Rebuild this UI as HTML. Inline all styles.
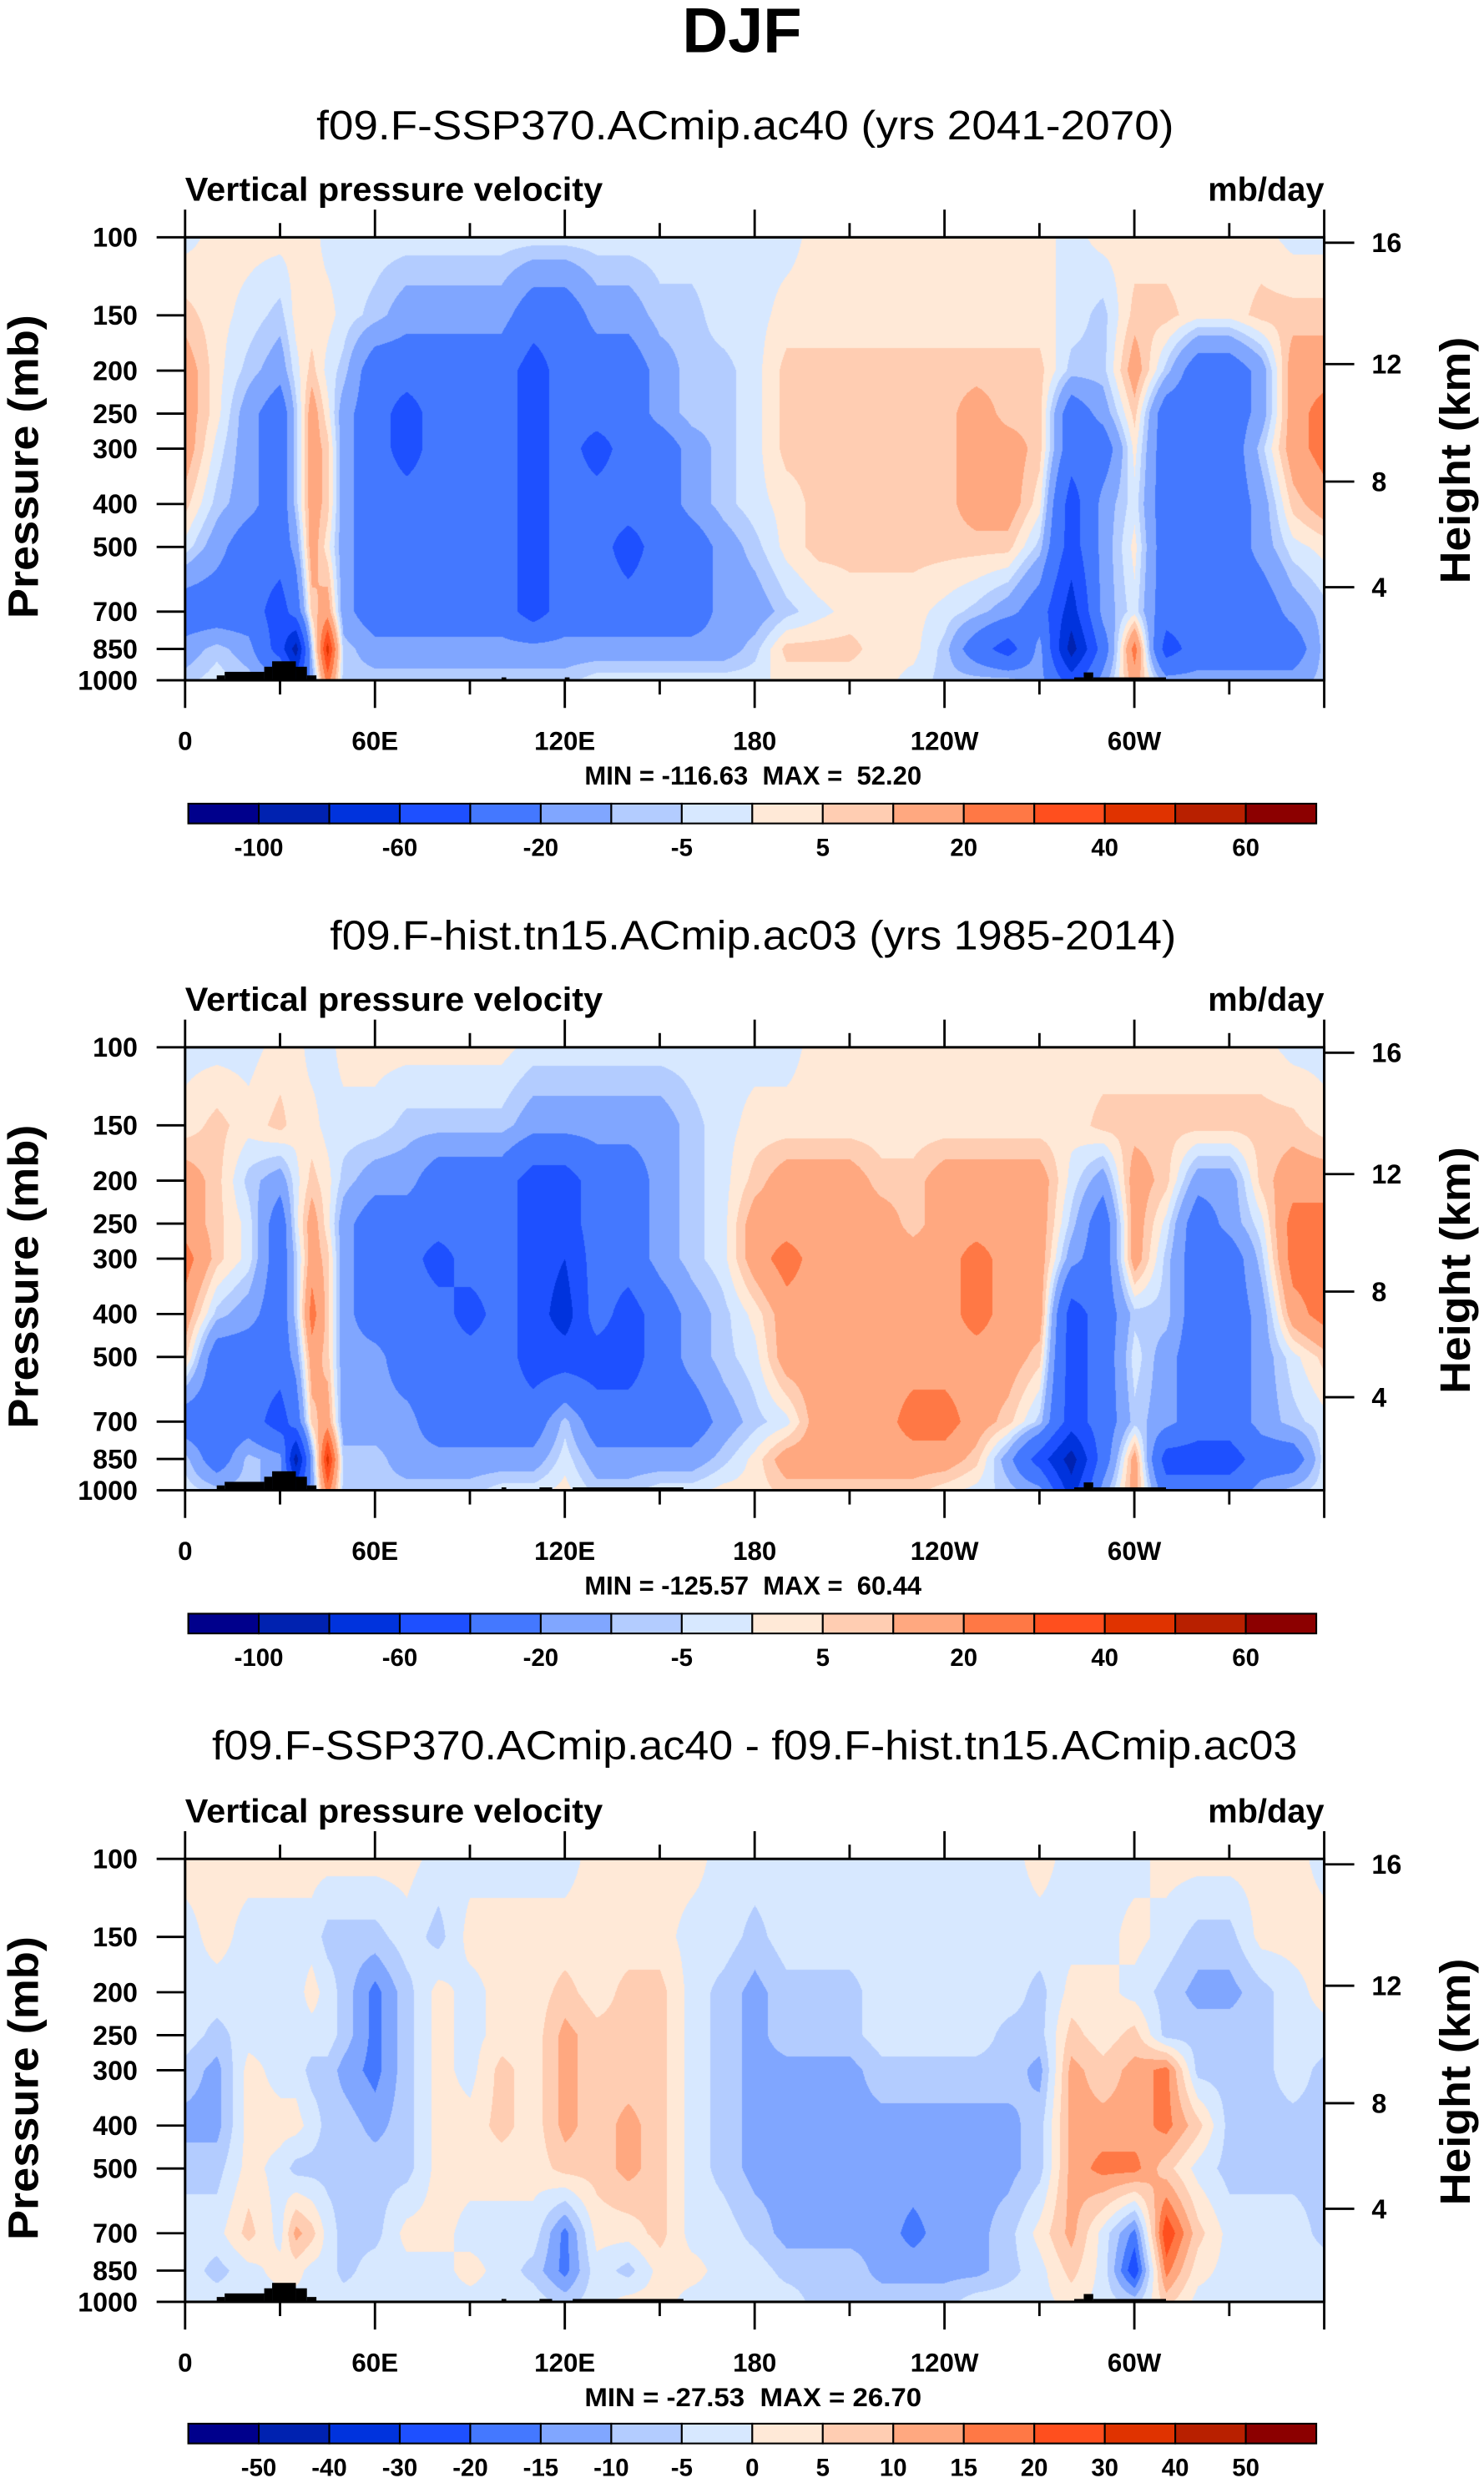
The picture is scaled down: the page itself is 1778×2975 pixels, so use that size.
<!DOCTYPE html>
<html><head><meta charset="utf-8"><title>DJF Vertical pressure velocity</title>
<style>
html,body{margin:0;padding:0;background:#fff;}
#root{position:relative;width:1778px;height:2975px;overflow:hidden;background:#fff;}
canvas{position:absolute;}
svg{position:absolute;left:0;top:0;}
text{font-family:"Liberation Sans",Arial,sans-serif;fill:#000;white-space:pre;}
.b{font-weight:bold;}
</style></head>
<body>
<div id="root">
<canvas id="c0"></canvas>
<canvas id="c1"></canvas>
<canvas id="c2"></canvas>
<svg id="svg" width="1778" height="2975" viewBox="0 0 938 1569.5">
<text x="469" y="33" text-anchor="middle" class="b" font-size="40">DJF</text>
<text x="471" y="88" text-anchor="middle" font-size="26" textLength="542" lengthAdjust="spacingAndGlyphs">f09.F-SSP370.ACmip.ac40 (yrs 2041-2070)</text>
<text x="476" y="600" text-anchor="middle" font-size="26" textLength="535" lengthAdjust="spacingAndGlyphs">f09.F-hist.tn15.ACmip.ac03 (yrs 1985-2014)</text>
<text x="477" y="1112" text-anchor="middle" font-size="26" textLength="686" lengthAdjust="spacingAndGlyphs">f09.F-SSP370.ACmip.ac40 - f09.F-hist.tn15.ACmip.ac03</text>
<g id="axes"></g>
</svg>
</div>
<script>
// ---------- data ----------
const lonGrid = [0,10,20,30,35,40,45,50,60,70,80,90,100,110,120,130,140,150,160,170,180,190,200,210,220,230,240,250,260,270,280,290,300,310,320,330,340,350,360];
const pressureLevels = [100,150,200,250,300,400,500,700,850,1000];
const panel1Values = [
[-2,2,2, 2,2,2,-2,-2, -2,-2,-2,-2,-2,-2,-2,-2,-2,-2,-2,-2,-2,-2, 2,2,2,2,2,2,2, 2,-2,2,2,2,2, 2, 2,-2,-2],
[7,2,-2, -7,2,2,2,-2, -7,-15,-15,-15,-15,-30,-30,-15,-15,-7,-7,-2,-2,2, 2,2,2,2,2,2,2, 2,-2,-7,7,7,2, 2, 7,7,7],
[15,2,-7, -15,-2,7,-2,-7, -30,-30,-30,-30,-30,-50,-30,-30,-30,-15,-7,-7,-2,7, 7,7,7,7,7,7,7, 7,-7,-7,15,-7,-30, -30, -15,15,15],
[15,2,-15, -30,-7,15,2,-15, -30,-50,-30,-30,-30,-50,-30,-30,-30,-15,-7,-7,-2,7, 7,7,7,7,7,15,7, 7,-30,-15,7,-30,-30, -30, -15,15,25],
[15,-2,-15, -30,-7,15,7,-15, -30,-50,-30,-30,-30,-50,-30,-50,-30,-30,-15,-7,-2,7, 7,7,7,7,7,15,15, 7,-30,-30,2,-30,-30, -30, -7,15,25],
[7,-7,-15, -30,-7,15,7,-15, -30,-30,-30,-30,-30,-50,-30,-30,-30,-30,-15,-7,-2,2, 7,7,7,7,7,15,15, 2,-50,-15,-2,-30,-30, -30, -15,7,15],
[-2,-15,-30, -30,-15,15,2,-15, -30,-30,-30,-30,-30,-50,-30,-30,-50,-30,-30,-15,-7,2, 7,7,7,7,7,7,7, -7,-50,-15,2,-30,-30, -30, -15,-2,2],
[-30,-30,-30, -50,-30,7,15,-15, -30,-30,-30,-30,-30,-50,-30,-30,-30,-30,-30,-15,-15,-7, -2,2,2,2,-2,-7,-15, -30,-70,-15,-2,-30,-30, -30, -30,-15,-7],
[-15,-7,-15, -50,-90,-7,45,-7, -15,-15,-15,-15,-15,-15,-15,-15,-15,-15,-15,-15,-7,7, 7,7,2,2,-7,-30,-50, -15,-90,-30,25,-50,-30, -30, -30,-30,-7],
[-7,-2,-7, -15,-50,-15,25,-7, -7,-7,-7,-7,-7,-7,-7,-2,-2,-2,-2,-2,-2,2, 2,2,2,-2,-7,-7,-7, -15,-50,-15,15,-15,-15, -15, -15,-15,-7]
];
const panel2Values = [
[-2,-2,-2, 2,2,-2,-2,2, 2,2,2,2,2,-2,-2,-2,-2,-2,-2,-2,-2,-2, 2,2,2,2,2,2,2, 2,2,2,2,2,2, 2, 2,-2,-2],
[2,7,2, 7,2,2,-2,-2, -2,-7,-7,-7,-7,-15,-15,-15,-15,-15,-7,-2,2,2, 2,2,2,2,2,2,2, 2,2,7,7,7,7, 7, 7,7,2],
[15,7,-7, -15,-2,7,2,-7, -15,-15,-30,-30,-30,-50,-50,-30,-30,-15,-7,-2,7,15, 15,15,7,7,15,15,15, 15,-2,-15,15,7,-15, -15, 7,15,15],
[15,7,-2, -30,-2,15,2,-15, -30,-30,-30,-30,-30,-50,-50,-30,-30,-15,-7,-2,15,15, 15,15,15,7,15,15,15, 15,-7,-30,15,-2,-30, -15, -2,25,25],
[25,7,-2, -30,-7,15,7,-15, -30,-30,-50,-30,-30,-50,-60,-30,-30,-15,-7,-2,15,25, 15,15,15,15,15,25,15, 15,-15,-30,15,-7,-30, -30, -7,25,25],
[15,-7,-15, -30,-7,25,7,-15, -30,-30,-30,-50,-30,-50,-70,-30,-50,-30,-15,-7,2,15, 15,15,15,15,15,25,15, 15,-50,-30,-7,-7,-30, -30, -15,15,25],
[7,-30,-30, -30,-15,15,7,-15, -15,-30,-30,-30,-30,-50,-50,-50,-50,-30,-15,-7,-2,15, 15,15,15,15,15,15,15, 7,-50,-30,-2,-15,-30, -30, -15,-2,7],
[-30,-30,-30, -50,-30,7,15,-15, -15,-15,-30,-30,-30,-30,-7,-30,-30,-30,-30,-15,-7,-2, 15,15,15,25,25,15,7, -7,-50,-30,-7,-15,-30, -30, -15,-7,-2],
[-7,-30,-7, -15,-90,-15,45,-7, -7,-15,-15,-15,-15,-15,-2,-15,-15,-15,-15,-7,2,15, 15,15,15,15,15,7,-15, -50,-90,-30,15,-50,-50, -50, -30,-30,-2],
[-2,-7,-7, -15,-50,-15,25,-7, -7,-7,-7,-7,-2,-2,2,-7,-7,-2,-2,2,2,7, 7,7,7,7,2,-2,-7, -15,-70,-15,15,-30,-30, -30, -15,-7,-2]
];
const panel3Values = [
[2,2,2, 2,2,2,2,2, 2,2,-2,-2,-2,-2,-2,2,2,2,2,-2,-2,-2, -2,-2,-2,-2,-2,-2,-2, 2,-2,-2,-2,2,2, 2, 2,2,-2],
[-2,2,-2, -2,-2,-2,-7,-7, -7,-2,-7,2,2,2,2,2,2,2,-2,-2,-7,-2, -2,-2,-2,-2,-2,-2,-2, -2,-2,-2,2,-2,-7, -7, 2,2,2],
[-2,-2,-2, -2,-2,2,-2,-7, -17,-7,2,-2,2,2,7,2,7,7,-2,-7,-12,-7, -7,-7,-2,-2,-2,-2,-2, -7,2,2,-2,-7,-12, -12, -7,-2,2],
[-2,-7,-2, -2,-2,-2,-2,-7, -17,-7,2,-2,2,2,12,7,7,7,-2,-7,-12,-7, -7,-7,-2,-2,-2,-2,-7, -7,7,2,7,-7,-7, -7, -7,-2,-2],
[-7,-12,2, -2,-2,-7,-7,-12, -17,-7,2,-2,7,2,12,7,7,7,-2,-7,-12,-12, -12,-12,-7,-7,-7,-7,-7, -12,12,7,12,17,-7, -7, -7,-2,-7],
[-12,-12,2, 2,2,-2,-7,-7, -12,-7,2,2,7,2,12,7,12,7,-2,-7,-12,-12, -12,-12,-12,-12,-12,-12,-12, -7,12,12,12,17,7, -7, -7,-7,-7],
[-7,-7,2, -2,-7,-7,-7,-7, -7,-7,2,2,2,2,7,7,12,7,-2,-7,-12,-12, -12,-12,-12,-12,-12,-12,-12, -7,12,17,17,7,-2, -7, -7,-7,-7],
[-2,-2,7, -2,12,7,-2,-7, -7,2,2,-2,-2,-2,-17,2,2,7,-2,-2,-7,-12, -12,-12,-12,-17,-12,-12,-7, 2,12,-2,-17,25,7, -2, -2,-2,-7],
[-2,-7,-2, 2,2,-2,-2,-7, -2,-2,-2,2,-2,-7,-17,-2,-7,2,2,-2,-2,-7, -7,-7,-12,-12,-12,-12,-7, -2,7,-2,-25,17,2, -2, -2,-2,-2],
[-2,-2,-2, -2,-2,-2,-2,-2, -2,-2,-2,-2,-2,-2,-7,-2,2,2,-2,-2,-2,-2, -7,-7,-7,-7,-7,-2,-2, -2,2,-2,-7,7,-2, -2, -2,-2,-2]
];
const levelsMain = [-100,-80,-60,-40,-20,-10,-5,0,5,10,20,30,40,50,60];
const levelsDiff = [-50,-40,-30,-20,-15,-10,-5,0,5,10,15,20,30,40,50];
const cbLabelsMain = ["-100","","-60","","-20","","-5","","5","","20","","40","","60"];
const cbLabelsDiff = ["-50","-40","-30","-20","-15","-10","-5","0","5","10","15","20","30","40","50"];
const palette = ['#00008c','#0022b0','#0033dd','#1e50ff','#4478ff','#80a6ff','#b3ccff','#d7e8ff','#ffe9d7','#ffcdb2','#ffa880','#ff7845','#ff4f1e','#e03300','#b82000','#8c0000'];
const xTickLons = [0,60,120,180,240,300];
const xTickLabels = ["0","60E","120E","180","120W","60W"];
const pTicks = [100,150,200,250,300,400,500,700,850,1000];
const heightTicksKm = [16,12,8,4];
const minMaxLabels = ["MIN = -116.63  MAX =  52.20","MIN = -125.57  MAX =  60.44","MIN = -27.53  MAX = 26.70"];
// topography segments: [lonStart, lonEnd, surfacePressure]
const topoPanel1 = [[10,12.5,975],[12.5,25,957],[25,27.5,932],[27.5,35,906],[35,38.5,932],[38.5,41.5,975],[100,101.5,985],[120,121.5,985],[281,284,985],[284,287,960],[287,310,985]];
const topoPanel23 = [[10,12.5,975],[12.5,25,957],[25,27.5,932],[27.5,35,906],[35,38.5,932],[38.5,41.5,975],[100,101.5,985],[112,116,985],[122.5,157.5,985],[281,284,985],[284,287,960],[287,310,985]];

// ---------- geometry (display units) ----------
const S = 1778/938;
const X0 = 117, PW = 720, PH = 280;
const panelTops = [150,662,1175];
const ns = "http://www.w3.org/2000/svg";
function xOf(lon){ return X0 + lon/360*PW; }
function yOf(p, top){ return top + Math.log10(p/100)*PH; }
function pOfHeight(km){ const h=km*1000; if(h<=11000) return 1013.25*Math.pow(1-2.25577e-5*h,5.25588); return 226.32*Math.exp(-1.57688e-4*(h-11000)); }
function el(tag){ return document.createElementNS(ns, tag); }
function setA(e, o){ for(const k in o) e.setAttribute(k, o[k]); return e; }
const axes = document.getElementById('axes');

// ---------- contour fills on canvas ----------
function hexRgb(h){ return [parseInt(h.substr(1,2),16),parseInt(h.substr(3,2),16),parseInt(h.substr(5,2),16)]; }
const rgbPal = palette.map(hexRgb);
function drawField(k, values, levels){
  const cv = document.getElementById('c'+k);
  const cw = Math.round(PW*S), ch = Math.round(PH*S);
  cv.width = cw; cv.height = ch;
  cv.style.left = (X0*S)+'px'; cv.style.top = (panelTops[k]*S)+'px';
  cv.style.width = cw+'px'; cv.style.height = ch+'px';
  const ctx = cv.getContext('2d');
  const img = ctx.createImageData(cw, ch);
  const lp = pressureLevels.map(p=>Math.log10(p/100));
  const nx = lonGrid.length;
  const colI = new Int32Array(cw), colF = new Float32Array(cw);
  for(let px=0;px<cw;px++){
    const lon=(px+0.5)/cw*360; let i=0;
    while(i<nx-2 && lonGrid[i+1]<=lon) i++;
    colI[px]=i; colF[px]=(lon-lonGrid[i])/(lonGrid[i+1]-lonGrid[i]);
  }
  for(let py=0;py<ch;py++){
    const f=(py+0.5)/ch; let j=0;
    while(j<lp.length-2 && lp[j+1]<=f) j++;
    const fy=(f-lp[j])/(lp[j+1]-lp[j]);
    const r0=values[j], r1=values[j+1];
    for(let px=0;px<cw;px++){
      const i=colI[px], fx=colF[px];
      const a=r0[i]*(1-fx)+r0[i+1]*fx, b=r1[i]*(1-fx)+r1[i+1]*fx;
      const v=a*(1-fy)+b*fy;
      let ci=0; while(ci<levels.length && v>=levels[ci]) ci++;
      const c=rgbPal[ci]; const o=(py*cw+px)*4;
      img.data[o]=c[0]; img.data[o+1]=c[1]; img.data[o+2]=c[2]; img.data[o+3]=255;
    }
  }
  ctx.putImageData(img,0,0);
}
drawField(0, panel1Values, levelsMain);
drawField(1, panel2Values, levelsMain);
drawField(2, panel3Values, levelsDiff);

// ---------- axes, labels, colorbars ----------
function txt(x,y,s,size,anchor,bold){
  const t=el('text'); setA(t,{x:x,y:y,'font-size':size,'text-anchor':anchor||'start'});
  if(bold) t.setAttribute('class','b');
  t.textContent=s; return t;
}
function line(x1,y1,x2,y2,w){ const l=el('line'); setA(l,{x1:x1,y1:y1,x2:x2,y2:y2,stroke:'#000','stroke-width':w||1.5}); return l; }

panelTops.forEach((top,k)=>{
  const g=el('g');
  
  
  axes.appendChild(g);
  const bottom = top+PH;
  const topo = k===0 ? topoPanel1 : topoPanel23;
  topo.forEach(seg=>{
    const r=el('rect');
    setA(r,{x:xOf(seg[0]),y:yOf(seg[2],top),width:xOf(seg[1])-xOf(seg[0]),height:bottom-yOf(seg[2],top),fill:'#000'});
    
    
    g.appendChild(r);
  });
  const fr=el('rect'); setA(fr,{x:X0,y:top,width:PW,height:PH,fill:'none',stroke:'#000','stroke-width':1.6});
  
  
  g.appendChild(fr);
  for(let lon=0;lon<=360;lon+=30){
    const major = lon%60===0; const L = major?17.5:9;
    const t1=line(xOf(lon),top,xOf(lon),top-L,1.5);
    
    
    g.appendChild(t1);
    const t2=line(xOf(lon),bottom,xOf(lon),bottom+L,1.5);
    
    
    g.appendChild(t2);
  }
  xTickLons.forEach((lon,i)=>{
    const t=txt(xOf(lon),474+(top-150),xTickLabels[i],16.5,'middle',true);
    
    
    g.appendChild(t);
  });
  pTicks.forEach(p=>{
    const y=yOf(p,top);
    const l=line(X0-18,y,X0,y,1.5);
    
    
    g.appendChild(l);
    const t=txt(87,y+6,String(p),17,'end',true);
    
    
    g.appendChild(t);
  });
  heightTicksKm.forEach(km=>{
    const y=yOf(pOfHeight(km),top);
    const l=line(X0+PW,y,X0+PW+19,y,1.5);
    
    
    g.appendChild(l);
    const t=txt(867,y+6,String(km),17,'start',true);
    
    
    g.appendChild(t);
  });
  const yt=txt(0,0,'Pressure (mb)',27,'middle',true);
  setA(yt,{transform:'translate(24,'+(top+145)+') rotate(-90)',textLength:192,lengthAdjust:'spacingAndGlyphs'});
  
  
  g.appendChild(yt);
  const ht=txt(0,0,'Height (km)',27,'middle',true);
  setA(ht,{transform:'translate(929,'+(top+141)+') rotate(-90)',textLength:156,lengthAdjust:'spacingAndGlyphs'});
  
  
  g.appendChild(ht);
  const lt=txt(X0,top-23,'Vertical pressure velocity',21,'start',true);
  setA(lt,{textLength:264,lengthAdjust:'spacingAndGlyphs'});
  
  
  g.appendChild(lt);
  const ut=txt(837,top-23,'mb/day',21,'end',true);
  
  
  g.appendChild(ut);
  const mm=txt(476,496+(top-150),minMaxLabels[k],16.5,'middle',true);
  setA(mm,{textLength:213,lengthAdjust:'spacingAndGlyphs'});
  
  
  g.appendChild(mm);
  const cbTop = 508 + (k===0?0:(k===1?512:1024));
  const cx0=119, cx1=832, bw=(cx1-cx0)/16;
  const cg=el('g');
  
  
  g.appendChild(cg);
  palette.forEach((c,i)=>{
    const r=el('rect'); setA(r,{x:cx0+i*bw,y:cbTop,width:bw,height:12.5,fill:c,stroke:'#000','stroke-width':1.1});
    
    
    cg.appendChild(r);
  });
  const labs = k===2 ? cbLabelsDiff : cbLabelsMain;
  labs.forEach((s,i)=>{
    if(!s) return;
    const t=txt(cx0+(i+1)*bw,cbTop+33,s,15.5,'middle',true);
    
    
    cg.appendChild(t);
  });
});
</script>
</body></html>
